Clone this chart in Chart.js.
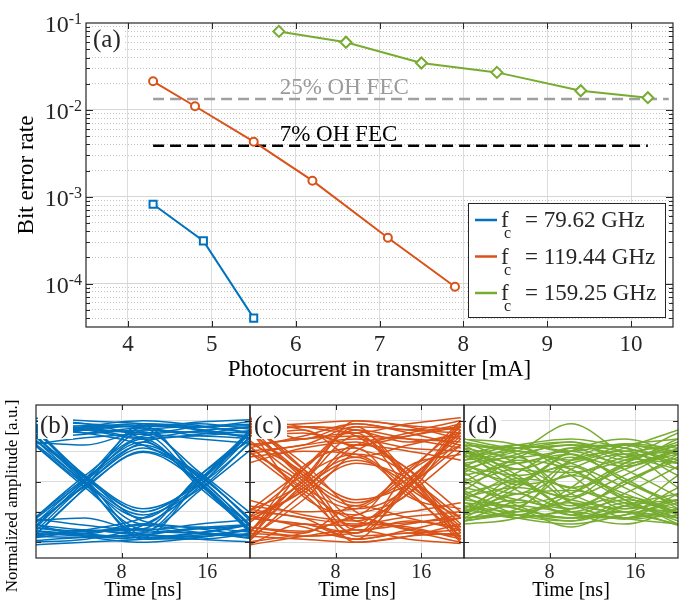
<!DOCTYPE html>
<html>
<head>
<meta charset="utf-8">
<script src="https://cdn.jsdelivr.net/npm/chart.js@4.4.1/dist/chart.umd.min.js"></script>
<style>
    body { margin: 0; background: #fff; }
    #wrap { position: relative; width: 683px; height: 606px; overflow: hidden; }
    canvas { position: absolute; }
</style>
</head>
<body>
<div id="wrap">
    <canvas id="ber" width="683" height="390" style="left:0;top:0"></canvas>
    <canvas id="eyeB" width="256" height="216" style="left:0;top:390px"></canvas>
    <canvas id="eyeC" width="226" height="216" style="left:244px;top:390px"></canvas>
    <canvas id="eyeD" width="225" height="216" style="left:458px;top:390px"></canvas>
</div>
<script>
const SERIF = "'Liberation Serif', 'Times New Roman', serif"
const BLUE = '#0072BD'
const ORANGE = '#D95319'
const GREEN = '#77AC30'

// panel (a): BER vs photocurrent
const photocurrentTicks = [4, 5, 6, 7, 8, 9, 10]
const berDecades = [1e-4, 1e-3, 1e-2, 1e-1]
const blueCurrent = [4.3, 4.9, 5.5]
const blueBer = [8.2e-4, 3.1e-4, 4.0e-5]
const orangeCurrent = [4.3, 4.8, 5.5, 6.2, 7.1, 7.9]
const orangeBer = [2.13e-2, 1.1e-2, 4.3e-3, 1.53e-3, 3.37e-4, 9.2e-5]
const greenCurrent = [5.8, 6.6, 7.5, 8.4, 9.4, 10.2]
const greenBer = [8.0e-2, 6.0e-2, 3.46e-2, 2.7e-2, 1.66e-2, 1.38e-2]
const seriesLabels = ['79.62 GHz', '119.44 GHz', '159.25 GHz']
const fecLabels = ['25% OH FEC', '7% OH FEC']
const fecBer = [1.33e-2, 3.85e-3]
const fecStart = [4.3, 4.3]
const fecEnd = [10.45, 10.2]

// panels (b)-(d): eye diagram traces, amplitude at the sample times
const eyeTimeTicks = [8, 16]
const eyeAmpTicks = [-1, -0.5, 0, 0.5, 1]
const blueTimes = [-0.8, 4.6, 10, 15.3, 20.6]
const blueTraces = [
    [0.85, 0.9, 0.95, 0.9, 0.8], [0.7, 0.78, 0.85, 0.8, 0.75], [1.0, 0.95, 0.9, 0.98, 1.02],
    [0.75, 0.85, 0.92, 0.86, 0.7], [0.95, 0.88, 0.8, 0.9, 0.95], [0.6, 0.72, 0.78, 0.7, 0.62],
    [-0.85, -0.9, -0.95, -0.88, -0.8], [-0.7, -0.8, -0.85, -0.78, -0.72], [-0.98, -0.92, -0.88, -0.95, -1.0],
    [-0.75, -0.86, -0.92, -0.84, -0.68], [-0.9, -0.82, -0.78, -0.86, -0.93], [-0.6, -0.72, -0.8, -0.7, -0.62],
    [0.9, 0.92, 0.88, 0.05, -0.8], [0.75, 0.85, 0.8, -0.05, -0.9], [1.0, 0.95, 0.7, 0.1, -0.7], [0.65, 0.6, 0.82, 0.15, -0.6],
    [-0.85, 0.0, 0.85, 0.9, 0.92], [-0.7, 0.1, 0.75, 0.82, 0.8], [-1.0, -0.1, 0.95, 0.9, 1.0],
    [0.85, 0.05, -0.88, -0.9, -0.85], [0.7, -0.1, -0.8, -0.85, -0.95], [1.0, 0.0, -0.95, -0.92, -0.75],
    [-0.9, -0.92, -0.85, 0.0, 0.9], [-0.75, -0.82, -0.78, 0.1, 0.75], [-1.0, -0.95, -0.72, -0.08, 0.98], [-0.65, -0.6, -0.82, -0.15, 0.6],
    [-0.85, -0.05, 0.55, 0.0, -0.9], [-0.7, 0.05, 0.65, -0.05, -0.8], [-1.0, -0.12, 0.5, 0.08, -0.7],
    [0.85, 0.05, -0.5, 0.0, 0.9], [0.7, -0.05, -0.6, 0.05, 0.8], [1.0, 0.1, -0.45, -0.05, 0.72],
    [0.8, 0.86, 0.72, 0.84, 0.9], [0.92, 0.8, 0.88, 0.76, 0.85], [0.68, 0.9, 1.0, 0.92, 0.78], [1.05, 1.0, 0.95, 0.85, 0.7],
    [-0.8, -0.86, -0.72, -0.84, -0.9], [-0.92, -0.8, -0.88, -0.76, -0.85], [-0.68, -0.9, -1.0, -0.92, -0.78], [-1.05, -1.0, -0.95, -0.85, -0.7],
    [0.82, 0.88, 0.92, -0.02, -0.95], [0.95, 0.8, 0.6, 0.12, -0.75], [-0.8, 0.05, 0.9, 0.95, 0.85], [-0.95, -0.05, 0.65, 0.75, 0.7],
    [0.8, -0.05, -0.92, -0.95, -0.85], [0.95, 0.08, -0.65, -0.75, -0.7], [-0.82, -0.88, -0.92, 0.02, 0.95], [-0.95, -0.8, -0.6, -0.12, 0.75],
    [-0.9, 0.0, 0.6, 0.05, -0.85], [-0.78, -0.08, 0.48, -0.02, -0.95], [0.9, 0.0, -0.55, -0.05, 0.85], [0.78, 0.08, -0.5, 0.02, 0.95],
    [0.88, 0.85, 0.7, 0.78, 0.92], [-0.88, -0.85, -0.7, -0.78, -0.92], [0.72, -0.02, -0.7, 0.1, 0.88], [-0.72, 0.02, 0.7, -0.1, -0.88]
]
const orangeTimes = [-0.2, 5.0, 9.9, 14.8, 19.7]
const orangeTraces = [
    [0.9, 0.95, 1.0, 0.92, 0.85], [0.6, 0.7, 0.75, 0.7, 0.65], [1.05, 0.9, 0.8, 0.95, 1.05],
    [0.45, 0.6, 0.7, 0.55, 0.5], [0.75, 0.8, 0.6, 0.75, 0.9],
    [-0.9, -0.95, -1.0, -0.9, -0.85], [-0.6, -0.7, -0.72, -0.68, -0.6], [-1.05, -0.9, -0.8, -0.95, -1.02],
    [-0.45, -0.6, -0.7, -0.58, -0.5], [-0.75, -0.82, -0.6, -0.78, -0.9],
    [0.85, 0.9, 0.75, 0.1, -0.85], [0.6, 0.7, 0.8, -0.1, -0.6], [1.0, 0.85, 0.55, 0.2, -0.95], [0.5, 0.6, 0.9, 0.0, -0.75],
    [-0.85, 0.05, 0.9, 0.85, 0.8], [-0.6, -0.15, 0.6, 0.75, 0.95], [-1.0, 0.2, 0.85, 0.7, 0.55], [-0.5, 0.0, 1.0, 0.9, 0.7],
    [0.85, 0.1, -0.9, -0.85, -0.8], [0.6, -0.15, -0.65, -0.75, -0.95], [1.0, 0.2, -0.8, -0.7, -0.55], [0.5, -0.05, -1.0, -0.9, -0.7],
    [-0.85, -0.9, -0.75, -0.05, 0.85], [-0.6, -0.7, -0.85, 0.15, 0.6], [-1.0, -0.85, -0.55, -0.2, 0.95], [-0.5, -0.6, -0.95, 0.0, 0.75],
    [-0.85, -0.1, 0.35, -0.05, -0.8], [-0.6, 0.1, 0.45, 0.1, -0.95], [-1.0, -0.2, 0.3, 0.05, -0.6],
    [0.85, 0.1, -0.35, 0.05, 0.8], [0.6, -0.1, -0.45, -0.1, 0.95], [1.0, 0.2, -0.3, -0.05, 0.6],
    [0.8, 0.9, 0.85, 0.65, 0.75], [-0.8, -0.9, -0.85, -0.65, -0.75], [0.55, 0.75, 0.95, 0.85, 1.0], [-0.55, -0.75, -0.95, -0.85, -1.0],
    [0.95, 0.3, -0.5, -0.8, -0.9], [-0.95, -0.3, 0.5, 0.8, 0.9], [0.7, 0.0, -0.75, -0.1, 0.7], [-0.7, 0.0, 0.75, 0.1, -0.7],
    [0.4, 0.5, 0.45, -0.15, -1.0], [-0.4, -0.5, -0.45, 0.15, 1.0], [0.9, -0.25, -0.55, 0.25, 0.45], [-0.9, 0.25, 0.55, -0.25, -0.45],
    [1.05, 0.7, 0.95, 0.8, 0.6], [-1.05, -0.7, -0.95, -0.8, -0.6], [0.65, 0.15, -0.6, -0.5, -0.35], [-0.65, -0.15, 0.6, 0.5, 0.35],
    [0.3, 0.55, 0.65, 0.2, -0.5], [-0.3, -0.55, -0.65, -0.2, 0.5], [0.75, 0.85, 0.4, 0.6, 0.8], [-0.75, -0.85, -0.4, -0.6, -0.8],
    [0.5, -0.2, -0.85, -0.1, 1.0], [-0.5, 0.2, 0.85, 0.1, -1.0], [0.95, 0.05, -0.4, 0.2, 0.9], [-0.95, -0.05, 0.4, -0.2, -0.9]
]
const greenTimes = [0, 5, 10, 15, 20]
const greenTraces = [
    [0.6, 0.55, 0.65, 0.5, 0.6], [0.45, 0.6, 0.5, 0.62, 0.55], [0.2, 0.45, 0.6, 0.4, 0.3],
    [0.65, 0.3, -0.1, 0.2, 0.55], [0.5, 0.05, -0.4, -0.05, 0.45], [0.3, -0.15, -0.55, -0.2, 0.25],
    [-0.6, -0.55, -0.65, -0.5, -0.6], [-0.45, -0.6, -0.5, -0.62, -0.55], [-0.2, -0.45, -0.6, -0.4, -0.3],
    [-0.65, -0.3, 0.1, -0.2, -0.55], [-0.5, -0.05, 0.4, 0.05, -0.45], [-0.3, 0.15, 0.55, 0.2, -0.25],
    [0.55, 0.1, -0.5, -0.6, -0.45], [-0.55, -0.1, 0.5, 0.6, 0.45], [0.4, 0.5, 0.3, -0.1, -0.55],
    [-0.4, -0.5, -0.3, 0.1, 0.55], [0.1, 0.3, 0.45, 0.0, -0.4], [-0.1, -0.3, -0.45, 0.0, 0.4],
    [0.7, 0.6, 0.2, -0.3, -0.6], [-0.7, -0.6, -0.2, 0.3, 0.6], [0.35, 0.5, 0.95, 0.45, 0.2],
    [0.25, 0.1, 0.3, 0.55, 0.85], [-0.35, -0.45, -0.75, -0.4, -0.2], [-0.25, -0.1, -0.3, -0.5, -0.7],
    [0.5, 0.2, 0.15, 0.35, 0.65], [-0.5, -0.2, -0.15, -0.35, -0.65], [0.05, -0.2, 0.35, 0.5, 0.1],
    [-0.05, 0.2, -0.35, -0.5, -0.1], [0.6, 0.45, -0.2, -0.45, 0.1], [-0.6, -0.45, 0.2, 0.45, -0.1],
    [0.15, 0.55, 0.65, 0.35, 0.7], [-0.15, -0.55, -0.65, -0.35, -0.7],
    [0.55, 0.4, 0.5, 0.3, 0.45], [-0.55, -0.4, -0.5, -0.3, -0.45], [0.35, 0.6, 0.45, 0.25, 0.5], [-0.35, -0.6, -0.45, -0.25, -0.5],
    [0.65, 0.5, 0.35, 0.6, 0.7], [-0.65, -0.5, -0.35, -0.6, -0.7], [0.0, 0.35, 0.2, -0.25, -0.5], [0.0, -0.35, -0.2, 0.25, 0.5],
    [0.45, 0.0, -0.25, 0.3, 0.6], [-0.45, 0.0, 0.25, -0.3, -0.6], [0.25, 0.55, 0.1, -0.45, -0.3], [-0.25, -0.55, -0.1, 0.45, 0.3],
    [0.5, 0.3, 0.55, 0.6, 0.2], [-0.5, -0.3, -0.55, -0.6, -0.2], [0.6, 0.2, 0.45, 0.0, -0.35], [-0.6, -0.2, -0.45, 0.0, 0.35],
    [0.15, -0.4, -0.6, -0.55, -0.3], [-0.15, 0.4, 0.6, 0.55, 0.3], [0.4, 0.6, 0.7, 0.55, 0.35], [-0.4, -0.6, -0.7, -0.55, -0.35],
    [0.55, -0.05, 0.1, 0.4, 0.5], [-0.55, 0.05, -0.1, -0.4, -0.5], [0.3, 0.4, -0.35, -0.6, -0.5], [-0.3, -0.4, 0.35, 0.6, 0.5],
    [0.7, 0.55, 0.6, 0.45, 0.8], [-0.65, -0.55, -0.6, -0.5, -0.72], [0.2, 0.0, 0.5, 0.7, 0.45], [-0.2, 0.0, -0.5, -0.7, -0.45]
]

Chart.defaults.font.family = SERIF
Chart.defaults.color = '#262626'

function points(xs, ys) {
    return xs.map((x, i) => ({ x: x, y: ys[i] }))
}

function series(xs, ys, color, style, radius) {
    return {
        data: points(xs, ys),
        borderColor: color,
        borderWidth: 2,
        pointStyle: style,
        pointRadius: radius,
        pointBorderWidth: 2,
        pointBorderColor: color,
        pointBackgroundColor: '#fff',
        tension: 0,
    }
}

const seriesColors = [BLUE, ORANGE, GREEN]
const fecColors = ['#a0a0a0', '#000']

const berDecor = {
    id: 'berDecor',
    afterDraw(chart) {
        const { ctx, chartArea: a, scales: { x, y } } = chart
        ctx.save()

        // FEC threshold labels
        ctx.font = `23px ${SERIF}`
        ctx.textAlign = 'left'
        ctx.textBaseline = 'alphabetic'
        fecLabels.forEach((t, i) => {
            ctx.fillStyle = fecColors[i] === '#000' ? '#000' : '#9a9a9a'
            ctx.fillText(t, x.getPixelForValue(5.81), y.getPixelForValue(fecBer[i]) - 5)
        })

        // frame
        ctx.strokeStyle = '#262626'
        ctx.lineWidth = 1.2
        ctx.strokeRect(a.left, a.top, a.right - a.left, a.bottom - a.top)

        // inward ticks
        ctx.lineWidth = 1
        ctx.beginPath()
        photocurrentTicks.forEach(v => {
            const px = Math.round(x.getPixelForValue(v)) + 0.5
            ctx.moveTo(px, a.bottom); ctx.lineTo(px, a.bottom - 6)
            ctx.moveTo(px, a.top); ctx.lineTo(px, a.top + 6)
        })
        y.ticks.forEach(t => {
            const py = Math.round(y.getPixelForValue(t.value)) + 0.5
            const len = t.major ? 7 : 4
            ctx.moveTo(a.left, py); ctx.lineTo(a.left + len, py)
            ctx.moveTo(a.right, py); ctx.lineTo(a.right - len, py)
        })
        ctx.stroke()

        // y tick labels 10^k
        ctx.fillStyle = '#262626'
        berDecades.forEach(d => {
            const py = y.getPixelForValue(d)
            const sup = String(Math.round(Math.log10(d)))
            ctx.font = `16px ${SERIF}`
            const supW = ctx.measureText(sup).width
            const supX = a.left - 4 - supW
            ctx.textAlign = 'left'
            ctx.fillText(sup, supX, py + 1)
            ctx.font = `24px ${SERIF}`
            ctx.textAlign = 'right'
            ctx.fillText('10', supX, py + 9)
        })

        // panel label
        ctx.fillStyle = '#fff'
        ctx.fillRect(a.left + 4, a.top + 4, 34, 30)
        ctx.fillStyle = '#262626'
        ctx.textAlign = 'left'
        ctx.font = `25px ${SERIF}`
        ctx.fillText('(a)', a.left + 7, a.top + 24)

        // legend
        const lx = a.right - 205, ly = a.bottom - 124, lw = 197, lh = 114
        ctx.fillStyle = '#fff'
        ctx.fillRect(lx, ly, lw, lh)
        ctx.strokeStyle = '#262626'
        ctx.lineWidth = 1
        ctx.strokeRect(lx + 0.5, ly + 0.5, lw, lh)
        seriesLabels.forEach((label, i) => {
            const cy = ly + 17 + i * 36.5
            ctx.strokeStyle = seriesColors[i]
            ctx.lineWidth = 2.5
            ctx.beginPath()
            ctx.moveTo(lx + 7, cy); ctx.lineTo(lx + 29, cy)
            ctx.stroke()
            ctx.fillStyle = '#262626'
            ctx.font = `23px ${SERIF}`
            ctx.fillText('f', lx + 33, cy + 7)
            ctx.font = `16px ${SERIF}`
            ctx.fillText('c', lx + 36, cy + 18)
            ctx.font = `23px ${SERIF}`
            ctx.fillText('= ' + label, lx + 57, cy + 7)
        })
        ctx.restore()
    }
}

new Chart(document.getElementById('ber'), {
    type: 'line',
    data: {
        datasets: [
            series(blueCurrent, blueBer, BLUE, 'rect', 5),
            series(orangeCurrent, orangeBer, ORANGE, 'circle', 4),
            series(greenCurrent, greenBer, GREEN, 'rectRot', 5.5),
            ...fecBer.map((v, i) => ({
                data: [{ x: fecStart[i], y: v }, { x: fecEnd[i], y: v }],
                borderColor: fecColors[i],
                borderWidth: 2.5,
                borderDash: [11, 6],
                pointRadius: 0,
            }))
        ]
    },
    options: {
        responsive: false,
        animation: false,
        events: [],
        layout: { padding: { top: 23, right: 10, left: 0, bottom: 0 } },
        plugins: { legend: { display: false }, tooltip: { enabled: false } },
        scales: {
            x: {
                type: 'linear',
                min: 3.5,
                max: 10.5,
                afterBuildTicks: s => { s.ticks = photocurrentTicks.map(v => ({ value: v })) },
                afterFit: s => { s.height = 63 },
                grid: { color: '#dcdcdc', drawTicks: false },
                border: { display: false },
                ticks: { font: { size: 23 }, padding: 4 },
                title: { display: true, text: 'Photocurrent in transmitter [mA]', color: '#000', font: { size: 23 }, padding: { top: 0, bottom: 6 } }
            },
            y: {
                type: 'logarithmic',
                min: Math.pow(10, -4.5),
                max: 0.1,
                afterBuildTicks: s => {
                    const t = []
                    berDecades.forEach(d => {
                        for (let m = 1; m <= 9; m++) {
                            const v = d * m / 10
                            if (v >= s.min * 0.999 && v <= s.max * 1.001) t.push({ value: v, major: m === 1 })
                        }
                    })
                    s.ticks = t
                },
                afterFit: s => { s.width = 86 },
                grid: {
                    drawTicks: false,
                    color: c => (c.tick && c.tick.major ? '#d6d6d6' : '#c4c4c4'),
                },
                border: { display: false, dash: c => (c.tick && c.tick.major ? [] : [1, 2]) },
                ticks: { display: false },
                title: { display: true, text: 'Bit error rate', color: '#000', font: { size: 23 }, padding: { top: 13, bottom: 0 } }
            }
        }
    },
    plugins: [berDecor]
})

const eyeDecor = {
    id: 'eyeDecor',
    afterDraw(chart, args, opts) {
        const { ctx, chartArea: a, scales: { x, y } } = chart
        ctx.save()
        ctx.strokeStyle = '#262626'
        ctx.lineWidth = 1.2
        ctx.strokeRect(a.left, a.top, a.right - a.left, a.bottom - a.top)
        ctx.lineWidth = 1
        ctx.beginPath()
        eyeTimeTicks.forEach(v => {
            const px = Math.round(x.getPixelForValue(v)) + 0.5
            ctx.moveTo(px, a.bottom); ctx.lineTo(px, a.bottom - 5)
            ctx.moveTo(px, a.top); ctx.lineTo(px, a.top + 5)
        })
        eyeAmpTicks.forEach(v => {
            const py = Math.round(y.getPixelForValue(v)) + 0.5
            ctx.moveTo(a.left, py); ctx.lineTo(a.left + 5, py)
            ctx.moveTo(a.right, py); ctx.lineTo(a.right - 5, py)
        })
        ctx.stroke()

        ctx.fillStyle = '#fff'
        ctx.fillRect(a.left + 2, a.top + 5, 35, 29)
        ctx.fillStyle = '#262626'
        ctx.font = `25px ${SERIF}`
        ctx.textAlign = 'left'
        ctx.textBaseline = 'alphabetic'
        ctx.fillText(opts.label, a.left + 4, a.top + 28)

        if (opts.yTitle) {
            ctx.translate(13, 106)
            ctx.rotate(-Math.PI / 2)
            ctx.textAlign = 'center'
            ctx.textBaseline = 'middle'
            ctx.font = `17px ${SERIF}`
            ctx.fillStyle = '#000'
            ctx.fillText(opts.yTitle, 0, 0)
        }
        ctx.restore()
    }
}

function eyeChart(id, times, traces, color, label, padL, padR, yWidth, yTitle) {
    return new Chart(document.getElementById(id), {
        type: 'line',
        data: {
            datasets: traces.map(tr => ({
                data: points(times, tr),
                borderColor: color,
                borderWidth: 1.5,
                pointRadius: 0,
                cubicInterpolationMode: 'monotone',
            }))
        },
        options: {
            responsive: false,
            animation: false,
            events: [],
            layout: { padding: { left: padL, right: padR, top: 15, bottom: 0 } },
            plugins: {
                legend: { display: false },
                tooltip: { enabled: false },
                eyeDecor: { label: label, yTitle: yTitle }
            },
            scales: {
                x: {
                    type: 'linear',
                    min: 0,
                    max: 20,
                    afterBuildTicks: s => { s.ticks = eyeTimeTicks.map(v => ({ value: v })) },
                    afterFit: s => { s.height = 48 },
                    grid: { color: '#dcdcdc', drawTicks: false },
                    border: { display: false },
                    ticks: { font: { size: 20 }, padding: 3 },
                    title: { display: true, text: 'Time [ns]', color: '#000', font: { size: 20 }, padding: { top: 0, bottom: 3 } }
                },
                y: {
                    type: 'linear',
                    min: -1.26,
                    max: 1.26,
                    afterBuildTicks: s => { s.ticks = eyeAmpTicks.map(v => ({ value: v })) },
                    afterFit: s => { s.width = yWidth },
                    grid: { color: '#dcdcdc', drawTicks: false },
                    border: { display: false },
                    ticks: { display: false }
                }
            }
        },
        plugins: [eyeDecor]
    })
}

eyeChart('eyeB', blueTimes, blueTraces, BLUE, '(b)', 0, 6, 36, 'Normalized amplitude [a.u.]')
eyeChart('eyeC', orangeTimes, orangeTraces, ORANGE, '(c)', 6, 6, 0, null)
eyeChart('eyeD', greenTimes, greenTraces, GREEN, '(d)', 6, 5, 0, null)
</script>
</body>
</html>
